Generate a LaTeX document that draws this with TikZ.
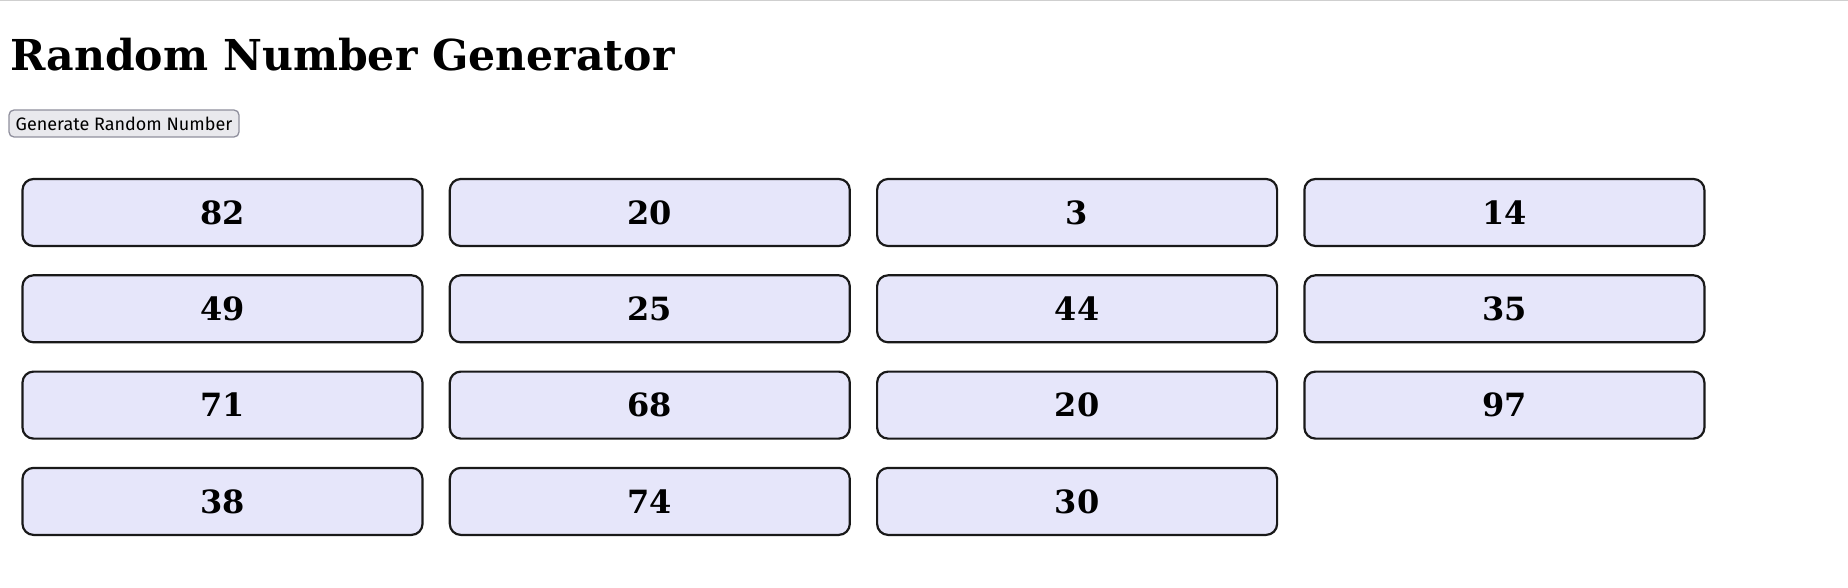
\documentclass[tikz,border=0pt]{standalone}
\usepackage{fontspec}
\setmainfont{DejaVu Serif}
\newfontfamily\uifont{Fira Sans}
\usepackage{tikz}
\usetikzlibrary{shapes.geometric, arrows}
\definecolor{lavender}{HTML}{E6E6FA}
\definecolor{btnfill}{HTML}{E9E9ED}
\definecolor{btnline}{HTML}{8F8F9D}
\definecolor{ruleline}{HTML}{CFCFCF}
\tikzstyle{heading} = [anchor=base west, inner sep=0pt, font=\fontsize{42.6}{50}\selectfont\bfseries]
\tikzstyle{button} = [rectangle, rounded corners=5pt, minimum width=230pt, minimum height=27pt, inner sep=0pt, text centered, draw=btnline, line width=1.3pt, fill=btnfill, font=\uifont\fontsize{18}{22}\selectfont]
\tikzstyle{num} = [rectangle, rounded corners=11pt, minimum width=400pt, minimum height=67pt, inner sep=0pt, text centered, draw=black!90, line width=2.2pt, fill=lavender, font=\fontsize{32}{38}\selectfont\bfseries]

\begin{document}
\begin{tikzpicture}[x=1pt, y=-1pt, node distance=96.3pt]

\useasboundingbox (0,0) rectangle (1848,588);
\draw [ruleline, line width=1.5pt] (0,0.75) -- (1848,0.75);

\node (title) [heading] at (10,71) {Random Number Generator};
\node (gen) [button] at (124,123.5) {Generate Random Number};

\node (n1) [num] at (222.5,212.5) {82};
\node (n2) [num, right of=n1, node distance=427.3pt] {20};
\node (n3) [num, right of=n2, node distance=427.3pt] {3};
\node (n4) [num, right of=n3, node distance=427.3pt] {14};

\node (n5) [num, below of=n1] {49};
\node (n6) [num, right of=n5, node distance=427.3pt] {25};
\node (n7) [num, right of=n6, node distance=427.3pt] {44};
\node (n8) [num, right of=n7, node distance=427.3pt] {35};

\node (n9) [num, below of=n5] {71};
\node (n10) [num, right of=n9, node distance=427.3pt] {68};
\node (n11) [num, right of=n10, node distance=427.3pt] {20};
\node (n12) [num, right of=n11, node distance=427.3pt] {97};

\node (n13) [num, below of=n9] {38};
\node (n14) [num, right of=n13, node distance=427.3pt] {74};
\node (n15) [num, right of=n14, node distance=427.3pt] {30};

\end{tikzpicture}
\end{document}
